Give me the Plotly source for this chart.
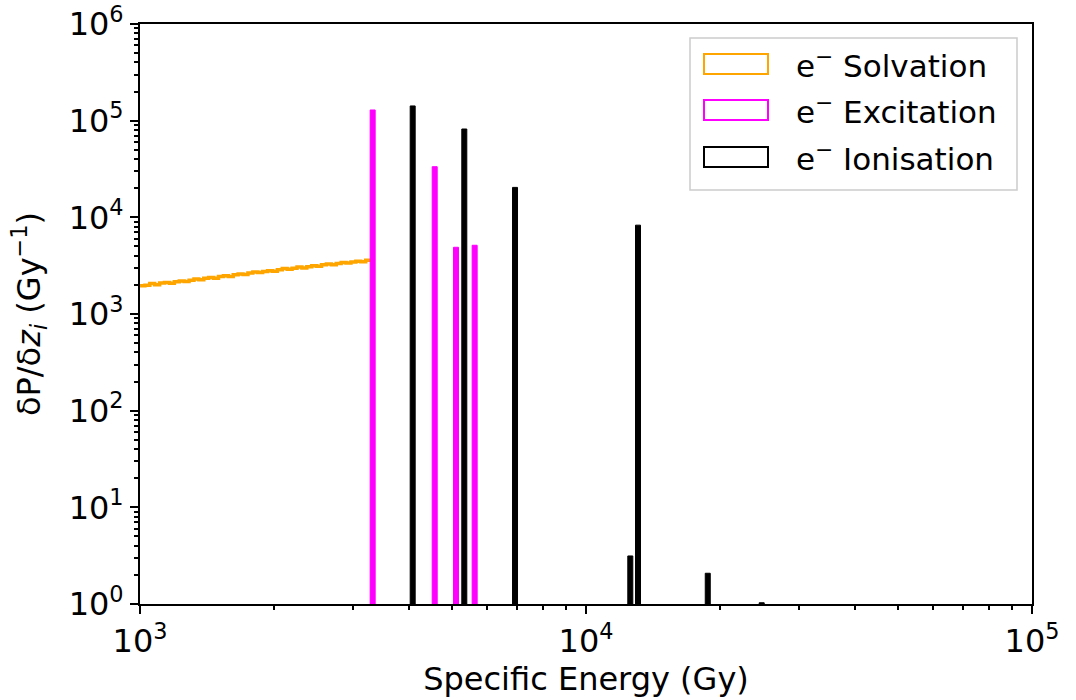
import numpy as np
import plotly.graph_objects as go

# ---------------- data ----------------
# Solvation: step histogram on log-spaced bins starting at 1e3 Gy
solv_start = 1000.0
solv_bin_decades = 0.011
solv_values = [
    1960, 1985, 2070, 2010, 2090, 2120, 2080, 2150, 2200, 2170,
    2230, 2300, 2260, 2340, 2390, 2350, 2440, 2480, 2450, 2540,
    2590, 2560, 2650, 2720, 2680, 2760, 2800, 2770, 2870, 2950,
    2900, 2980, 3060, 3000, 3090, 3150, 3110, 3230, 3290, 3240,
    3330, 3410, 3360, 3450, 3520, 3480, 3600,
]

# Excitation: narrow histogram bins (bin centre in Gy, height)
exc_centers = [3324, 4579, 5111, 5628]
exc_values = [1.29e5, 3.34e4, 4.9e3, 5.14e3]

# Ionisation
ion_centers = [4087, 5335, 6932, 12570, 13080, 18750, 24770]
ion_values = [1.42e5, 8.2e4, 2.04e4, 3.14, 8.3e3, 2.08, 1.03]

bar_bin_decades = 0.0112
baseline = 1.0

x_tick_vals = [1e3, 1e4, 1e5]
x_tick_text = ["10<sup>3</sup>", "10<sup>4</sup>", "10<sup>5</sup>"]
y_tick_vals = [1e0, 1e1, 1e2, 1e3, 1e4, 1e5, 1e6]
y_tick_text = ["10<sup>%d</sup>" % i for i in range(7)]

legend_labels = ["e<sup>−</sup> Solvation", "e<sup>−</sup> Excitation", "e<sup>−</sup> Ionisation"]
colors = ["#FFA500", "#FF00FF", "#000000"]

FONT = "DejaVu Sans"

# ---------------- figure ----------------
fig = go.Figure()

# solvation step line
edges = solv_start * 10 ** (solv_bin_decades * np.arange(len(solv_values) + 1))
sx = list(edges)
sy = list(solv_values) + [solv_values[-1]]
fig.add_trace(go.Scatter(x=sx, y=sy, mode="lines", line=dict(color=colors[0], width=3.5, shape="hv"),
                         showlegend=False, hoverinfo="skip"))


def bar_path(centers, values):
    xs, ys = [], []
    h = 10 ** (bar_bin_decades / 2)
    for c, v in zip(centers, values):
        xl, xr = c / h, c * h
        xs += [xl, xl, xr, xr, xl, None]
        ys += [baseline, v, v, baseline, baseline, None]
    return xs, ys


ex, ey = bar_path(exc_centers, exc_values)
fig.add_trace(go.Scatter(x=ex, y=ey, mode="lines", fill="toself", fillcolor=colors[1],
                         line=dict(color=colors[1], width=1), showlegend=False, hoverinfo="skip"))
ix, iy = bar_path(ion_centers, ion_values)
fig.add_trace(go.Scatter(x=ix, y=iy, mode="lines", fill="toself", fillcolor=colors[2],
                         line=dict(color=colors[2], width=1), showlegend=False, hoverinfo="skip"))

axis_common = dict(
    type="log", showgrid=False, zeroline=False, showline=True, linecolor="black", linewidth=2,
    mirror=True, ticks="outside", ticklen=8, tickwidth=2, tickcolor="black",
    tickfont=dict(family=FONT, size=32, color="black"), automargin=False,
    ticklabeloverflow="allow",
)
minor_common = dict(tickmode="linear", dtick="D1", ticks="outside", ticklen=4, tickwidth=1.5,
                    tickcolor="black", showgrid=False)

fig.update_xaxes(
    **axis_common, range=[3, 5], tickmode="array", tickvals=x_tick_vals, ticktext=x_tick_text,
    minor=minor_common,
    title=dict(text="Specific Energy (Gy)", font=dict(family=FONT, size=32, color="black"), standoff=6),
)
fig.update_yaxes(
    **axis_common, range=[0, 6], tickmode="array", tickvals=y_tick_vals, ticktext=y_tick_text,
    minor=minor_common,
    title=dict(text="δP/δ<i>z<sub>i</sub></i> (Gy<sup>−1</sup>)", font=dict(family=FONT, size=32, color="black"),
               standoff=18),
)

W, H = 1076, 700
L, R, T, B = 140, 44, 24, 96
pw, ph = W - L - R, H - T - B


def px(x):
    return (x - L) / pw


def py(y):
    return (H - B - y) / ph


# manual legend (outlined rectangles like matplotlib step-hist handles)
shapes = [dict(type="rect", xref="paper", yref="paper", x0=px(690), x1=px(1017), y0=py(190), y1=py(38),
               line=dict(color="#cccccc", width=1.5), fillcolor="rgba(255,255,255,0.8)", layer="above")]
annotations = []
row_y = [64, 110, 157]
for lab, col, ry in zip(legend_labels, colors, row_y):
    shapes.append(dict(type="rect", xref="paper", yref="paper", x0=px(704), x1=px(768),
                       y0=py(ry + 10), y1=py(ry - 10), line=dict(color=col, width=2),
                       fillcolor="rgba(0,0,0,0)", layer="above"))
    annotations.append(dict(xref="paper", yref="paper", x=px(794), y=py(ry), text=lab, showarrow=False,
                            xanchor="left", yanchor="middle",
                            font=dict(family=FONT, size=31, color="black")))

fig.update_layout(
    width=W, height=H, margin=dict(l=L, r=R, t=T, b=B, autoexpand=False),
    plot_bgcolor="white", paper_bgcolor="white",
    font=dict(family=FONT, color="black"),
    shapes=shapes, annotations=annotations, showlegend=False,
)

# remove the default page margin so the figure fills the window exactly
fig.write_html("out.html", config={"displayModeBar": False},
               post_script="document.body.style.margin='0';")
